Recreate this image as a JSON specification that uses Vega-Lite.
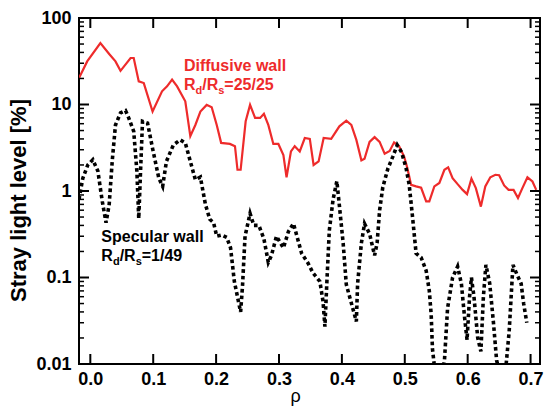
{
  "$schema": "https://vega.github.io/schema/vega-lite/v6.json",
  "width": 461,
  "height": 346,
  "autosize": "none",
  "padding": {"left": 79, "top": 18, "right": 4, "bottom": 48},
  "background": "white",
  "config": {
    "view": {"stroke": "black", "strokeWidth": 2},
    "font": "Liberation Sans",
    "axis": {
      "grid": false,
      "domain": false,
      "ticks": false,
      "labelFont": "Liberation Sans",
      "labelFontWeight": "bold",
      "labelFontSize": 18,
      "labelColor": "black",
      "titleColor": "black",
      "labelFlush": false,
      "labelOverlap": false,
      "labelBound": false
    },
    "text": {"font": "Liberation Sans", "fontWeight": "bold", "align": "left", "baseline": "alphabetic"}
  },
  "datasets": {
    "diffusive": [
      {"rho": -0.018, "v": 20.2}, {"rho": -0.005, "v": 31.5}, {"rho": 0.016, "v": 51.4}, {"rho": 0.030, "v": 38.4},
      {"rho": 0.040, "v": 31.5}, {"rho": 0.048, "v": 24.5}, {"rho": 0.064, "v": 34.5}, {"rho": 0.069, "v": 34.5},
      {"rho": 0.077, "v": 18.5}, {"rho": 0.085, "v": 17.7}, {"rho": 0.099, "v": 8.3}, {"rho": 0.114, "v": 14.2},
      {"rho": 0.122, "v": 16.2}, {"rho": 0.130, "v": 19.4}, {"rho": 0.138, "v": 16.2}, {"rho": 0.151, "v": 10.9},
      {"rho": 0.159, "v": 4.3}, {"rho": 0.167, "v": 5.8}, {"rho": 0.175, "v": 8.3}, {"rho": 0.185, "v": 9.9},
      {"rho": 0.193, "v": 9.3}, {"rho": 0.201, "v": 5.8}, {"rho": 0.208, "v": 3.6}, {"rho": 0.222, "v": 3.5},
      {"rho": 0.230, "v": 3.3}, {"rho": 0.234, "v": 1.76}, {"rho": 0.239, "v": 1.76}, {"rho": 0.247, "v": 6.4},
      {"rho": 0.254, "v": 9.9}, {"rho": 0.262, "v": 7.0}, {"rho": 0.270, "v": 7.0}, {"rho": 0.276, "v": 7.8},
      {"rho": 0.283, "v": 5.8}, {"rho": 0.291, "v": 3.5}, {"rho": 0.299, "v": 3.5}, {"rho": 0.307, "v": 2.6},
      {"rho": 0.312, "v": 1.44}, {"rho": 0.319, "v": 2.87}, {"rho": 0.325, "v": 3.3}, {"rho": 0.333, "v": 2.87},
      {"rho": 0.341, "v": 4.1}, {"rho": 0.349, "v": 4.0}, {"rho": 0.355, "v": 2.0}, {"rho": 0.363, "v": 2.2},
      {"rho": 0.371, "v": 4.1}, {"rho": 0.383, "v": 4.0}, {"rho": 0.396, "v": 5.6}, {"rho": 0.407, "v": 6.5},
      {"rho": 0.415, "v": 5.8}, {"rho": 0.423, "v": 3.9}, {"rho": 0.431, "v": 2.26}, {"rho": 0.436, "v": 2.36},
      {"rho": 0.444, "v": 3.7}, {"rho": 0.452, "v": 4.2}, {"rho": 0.460, "v": 3.7}, {"rho": 0.468, "v": 2.7},
      {"rho": 0.476, "v": 2.9}, {"rho": 0.483, "v": 3.65}, {"rho": 0.491, "v": 3.3}, {"rho": 0.499, "v": 2.5},
      {"rho": 0.504, "v": 1.85}, {"rho": 0.510, "v": 1.18}, {"rho": 0.518, "v": 1.13}, {"rho": 0.526, "v": 1.09},
      {"rho": 0.534, "v": 0.76}, {"rho": 0.539, "v": 0.76}, {"rho": 0.547, "v": 1.13}, {"rho": 0.555, "v": 1.24},
      {"rho": 0.563, "v": 1.76}, {"rho": 0.569, "v": 1.88}, {"rho": 0.576, "v": 1.41}, {"rho": 0.584, "v": 1.2},
      {"rho": 0.592, "v": 1.03}, {"rho": 0.599, "v": 0.92}, {"rho": 0.606, "v": 1.39}, {"rho": 0.613, "v": 1.08},
      {"rho": 0.621, "v": 0.66}, {"rho": 0.628, "v": 1.13}, {"rho": 0.636, "v": 1.44}, {"rho": 0.644, "v": 1.54},
      {"rho": 0.650, "v": 1.52}, {"rho": 0.658, "v": 1.16}, {"rho": 0.665, "v": 1.03}, {"rho": 0.673, "v": 1.03},
      {"rho": 0.680, "v": 0.83}, {"rho": 0.687, "v": 1.08}, {"rho": 0.695, "v": 1.44}, {"rho": 0.703, "v": 1.29},
      {"rho": 0.709, "v": 1.03}
    ],
    "specular": [
      {"rho": -0.018, "v": 0.8}, {"rho": -0.012, "v": 1.4}, {"rho": -0.004, "v": 2.0}, {"rho": 0.004, "v": 2.3},
      {"rho": 0.012, "v": 1.7}, {"rho": 0.019, "v": 0.76}, {"rho": 0.025, "v": 0.43}, {"rho": 0.030, "v": 0.7},
      {"rho": 0.035, "v": 2.3}, {"rho": 0.040, "v": 5.8}, {"rho": 0.048, "v": 8.0}, {"rho": 0.056, "v": 8.5},
      {"rho": 0.061, "v": 7.0}, {"rho": 0.069, "v": 4.9}, {"rho": 0.074, "v": 1.7}, {"rho": 0.077, "v": 0.48},
      {"rho": 0.080, "v": 1.8}, {"rho": 0.083, "v": 6.4}, {"rho": 0.091, "v": 6.1}, {"rho": 0.099, "v": 3.1},
      {"rho": 0.109, "v": 1.4}, {"rho": 0.115, "v": 1.13}, {"rho": 0.121, "v": 2.2}, {"rho": 0.132, "v": 3.4},
      {"rho": 0.143, "v": 3.9}, {"rho": 0.151, "v": 3.6}, {"rho": 0.159, "v": 2.2}, {"rho": 0.167, "v": 1.35},
      {"rho": 0.175, "v": 1.45}, {"rho": 0.183, "v": 0.7}, {"rho": 0.190, "v": 0.47}, {"rho": 0.196, "v": 0.43},
      {"rho": 0.201, "v": 0.3}, {"rho": 0.209, "v": 0.31}, {"rho": 0.217, "v": 0.29}, {"rho": 0.223, "v": 0.22},
      {"rho": 0.229, "v": 0.09}, {"rho": 0.235, "v": 0.055}, {"rho": 0.239, "v": 0.04}, {"rho": 0.242, "v": 0.08},
      {"rho": 0.246, "v": 0.3}, {"rho": 0.254, "v": 0.55}, {"rho": 0.260, "v": 0.4}, {"rho": 0.268, "v": 0.4},
      {"rho": 0.276, "v": 0.28}, {"rho": 0.283, "v": 0.15}, {"rho": 0.288, "v": 0.18}, {"rho": 0.296, "v": 0.3},
      {"rho": 0.307, "v": 0.22}, {"rho": 0.315, "v": 0.34}, {"rho": 0.323, "v": 0.42}, {"rho": 0.328, "v": 0.31},
      {"rho": 0.336, "v": 0.19}, {"rho": 0.346, "v": 0.147}, {"rho": 0.354, "v": 0.113}, {"rho": 0.365, "v": 0.09},
      {"rho": 0.370, "v": 0.053}, {"rho": 0.373, "v": 0.027}, {"rho": 0.376, "v": 0.085}, {"rho": 0.380, "v": 0.35},
      {"rho": 0.386, "v": 0.8}, {"rho": 0.392, "v": 1.3}, {"rho": 0.396, "v": 0.68}, {"rho": 0.402, "v": 0.25},
      {"rho": 0.407, "v": 0.083}, {"rho": 0.423, "v": 0.031}, {"rho": 0.425, "v": 0.085}, {"rho": 0.431, "v": 0.25},
      {"rho": 0.436, "v": 0.42}, {"rho": 0.444, "v": 0.32}, {"rho": 0.452, "v": 0.18}, {"rho": 0.456, "v": 0.25},
      {"rho": 0.460, "v": 0.6}, {"rho": 0.465, "v": 1.1}, {"rho": 0.473, "v": 1.8}, {"rho": 0.481, "v": 2.5},
      {"rho": 0.488, "v": 3.4}, {"rho": 0.495, "v": 2.8}, {"rho": 0.502, "v": 1.85}, {"rho": 0.507, "v": 1.18},
      {"rho": 0.512, "v": 0.53}, {"rho": 0.518, "v": 0.19}, {"rho": 0.526, "v": 0.17}, {"rho": 0.534, "v": 0.12},
      {"rho": 0.539, "v": 0.07}, {"rho": 0.542, "v": 0.037}, {"rho": 0.544, "v": 0.015}, {"rho": 0.549, "v": 0.007},
      {"rho": 0.557, "v": 0.007}, {"rho": 0.563, "v": 0.0107}, {"rho": 0.568, "v": 0.044}, {"rho": 0.576, "v": 0.1},
      {"rho": 0.584, "v": 0.134}, {"rho": 0.590, "v": 0.085}, {"rho": 0.595, "v": 0.035}, {"rho": 0.599, "v": 0.019},
      {"rho": 0.603, "v": 0.06}, {"rho": 0.606, "v": 0.1}, {"rho": 0.610, "v": 0.06}, {"rho": 0.616, "v": 0.02},
      {"rho": 0.621, "v": 0.014}, {"rho": 0.625, "v": 0.06}, {"rho": 0.629, "v": 0.14}, {"rho": 0.635, "v": 0.086},
      {"rho": 0.641, "v": 0.03}, {"rho": 0.646, "v": 0.011}, {"rho": 0.651, "v": 0.008}, {"rho": 0.660, "v": 0.008},
      {"rho": 0.666, "v": 0.024}, {"rho": 0.672, "v": 0.14}, {"rho": 0.678, "v": 0.11}, {"rho": 0.685, "v": 0.085},
      {"rho": 0.689, "v": 0.05}, {"rho": 0.694, "v": 0.03}
    ],
    "xmajor": [{"t": 0}, {"t": 0.1}, {"t": 0.2}, {"t": 0.3}, {"t": 0.4}, {"t": 0.5}, {"t": 0.6}, {"t": 0.7}],
    "ymajor": [{"t": 0.01}, {"t": 0.1}, {"t": 1}, {"t": 10}, {"t": 100}],
    "yminor": [
      {"t": 0.02}, {"t": 0.03}, {"t": 0.04}, {"t": 0.05}, {"t": 0.06}, {"t": 0.07}, {"t": 0.08}, {"t": 0.09},
      {"t": 0.2}, {"t": 0.3}, {"t": 0.4}, {"t": 0.5}, {"t": 0.6}, {"t": 0.7}, {"t": 0.8}, {"t": 0.9},
      {"t": 2}, {"t": 3}, {"t": 4}, {"t": 5}, {"t": 6}, {"t": 7}, {"t": 8}, {"t": 9},
      {"t": 20}, {"t": 30}, {"t": 40}, {"t": 50}, {"t": 60}, {"t": 70}, {"t": 80}, {"t": 90}
    ]
  },
  "layer": [
    {
      "data": {"name": "diffusive"},
      "mark": {"type": "line", "color": "#ee2b2b", "strokeWidth": 2.2, "clip": true},
      "encoding": {
        "x": {"field": "rho", "type": "quantitative",
          "scale": {"domain": [-0.018, 0.715], "nice": false, "zero": false},
          "axis": {"orient": "bottom", "values": [0, 0.1, 0.2, 0.3, 0.4, 0.5, 0.6, 0.7], "format": ".1f", "labelPadding": 6,
            "title": "ρ", "titleFont": "Liberation Sans", "titleFontSize": 18, "titleFontWeight": "normal", "titleX": 216, "titleY": 37, "titleBaseline": "alphabetic", "titleAlign": "center"}},
        "y": {"field": "v", "type": "quantitative",
          "scale": {"type": "log", "domain": [0.01, 100], "nice": false},
          "axis": {"orient": "left", "values": [0.01, 0.1, 1, 10, 100], "format": "~g", "labelPadding": 8,
            "title": "Stray light level [%]", "titleFont": "Liberation Sans", "titleFontSize": 22, "titleFontWeight": "bold",
            "titleAngle": -90, "titleX": -49, "titleY": 182, "titleAlign": "center", "titleBaseline": "bottom"}}
      }
    },
    {
      "data": {"name": "specular"},
      "mark": {"type": "line", "color": "black", "strokeWidth": 3.6, "strokeDash": [3.6, 3], "strokeCap": "butt", "clip": true},
      "encoding": {
        "x": {"field": "rho", "type": "quantitative"},
        "y": {"field": "v", "type": "quantitative"}
      }
    },
    {
      "data": {"name": "xmajor"},
      "mark": {"type": "tick", "orient": "vertical", "size": 20, "thickness": 2, "color": "black", "opacity": 1, "clip": true},
      "encoding": {"x": {"field": "t", "type": "quantitative"}, "y": {"datum": 0.01, "type": "quantitative"}}
    },
    {
      "data": {"name": "xmajor"},
      "mark": {"type": "tick", "orient": "vertical", "size": 20, "thickness": 2, "color": "black", "opacity": 1, "clip": true},
      "encoding": {"x": {"field": "t", "type": "quantitative"}, "y": {"datum": 100, "type": "quantitative"}}
    },
    {
      "data": {"name": "ymajor"},
      "mark": {"type": "tick", "orient": "horizontal", "size": 20, "thickness": 2, "color": "black", "opacity": 1, "clip": true},
      "encoding": {"y": {"field": "t", "type": "quantitative"}, "x": {"datum": -0.018, "type": "quantitative"}}
    },
    {
      "data": {"name": "ymajor"},
      "mark": {"type": "tick", "orient": "horizontal", "size": 20, "thickness": 2, "color": "black", "opacity": 1, "clip": true},
      "encoding": {"y": {"field": "t", "type": "quantitative"}, "x": {"datum": 0.715, "type": "quantitative"}}
    },
    {
      "data": {"name": "yminor"},
      "mark": {"type": "tick", "orient": "horizontal", "size": 10, "thickness": 1.5, "color": "black", "opacity": 1, "clip": true},
      "encoding": {"y": {"field": "t", "type": "quantitative"}, "x": {"datum": -0.018, "type": "quantitative"}}
    },
    {
      "data": {"name": "yminor"},
      "mark": {"type": "tick", "orient": "horizontal", "size": 10, "thickness": 1.5, "color": "black", "opacity": 1, "clip": true},
      "encoding": {"y": {"field": "t", "type": "quantitative"}, "x": {"datum": 0.715, "type": "quantitative"}}
    },
    {
      "data": {"values": [{}]},
      "mark": {"type": "text", "text": "Diffusive wall", "fontSize": 16, "color": "#ee2b2b"},
      "encoding": {"x": {"datum": 0.1488, "type": "quantitative"}, "y": {"datum": 24.1, "type": "quantitative"}}
    },
    {
      "data": {"values": [{}]},
      "mark": {"type": "text", "text": "R", "fontSize": 16, "color": "#ee2b2b"},
      "encoding": {"x": {"datum": 0.1488, "type": "quantitative"}, "y": {"datum": 14.6, "type": "quantitative"}}
    },
    {
      "data": {"values": [{}]},
      "mark": {"type": "text", "text": "d", "fontSize": 11, "color": "#ee2b2b", "dx": 11.6, "dy": 4},
      "encoding": {"x": {"datum": 0.1488, "type": "quantitative"}, "y": {"datum": 14.6, "type": "quantitative"}}
    },
    {
      "data": {"values": [{}]},
      "mark": {"type": "text", "text": "/R", "fontSize": 16, "color": "#ee2b2b", "dx": 18.3},
      "encoding": {"x": {"datum": 0.1488, "type": "quantitative"}, "y": {"datum": 14.6, "type": "quantitative"}}
    },
    {
      "data": {"values": [{}]},
      "mark": {"type": "text", "text": "s", "fontSize": 11, "color": "#ee2b2b", "dx": 34.3, "dy": 4},
      "encoding": {"x": {"datum": 0.1488, "type": "quantitative"}, "y": {"datum": 14.6, "type": "quantitative"}}
    },
    {
      "data": {"values": [{}]},
      "mark": {"type": "text", "text": "=25/25", "fontSize": 16, "color": "#ee2b2b", "dx": 40.4},
      "encoding": {"x": {"datum": 0.1488, "type": "quantitative"}, "y": {"datum": 14.6, "type": "quantitative"}}
    },
    {
      "data": {"values": [{}]},
      "mark": {"type": "text", "text": "Specular wall", "fontSize": 16, "color": "black"},
      "encoding": {"x": {"datum": 0.0175, "type": "quantitative"}, "y": {"datum": 0.2547, "type": "quantitative"}}
    },
    {
      "data": {"values": [{}]},
      "mark": {"type": "text", "text": "R", "fontSize": 16, "color": "black"},
      "encoding": {"x": {"datum": 0.0175, "type": "quantitative"}, "y": {"datum": 0.1535, "type": "quantitative"}}
    },
    {
      "data": {"values": [{}]},
      "mark": {"type": "text", "text": "d", "fontSize": 11, "color": "black", "dx": 11.6, "dy": 4},
      "encoding": {"x": {"datum": 0.0175, "type": "quantitative"}, "y": {"datum": 0.1535, "type": "quantitative"}}
    },
    {
      "data": {"values": [{}]},
      "mark": {"type": "text", "text": "/R", "fontSize": 16, "color": "black", "dx": 18.3},
      "encoding": {"x": {"datum": 0.0175, "type": "quantitative"}, "y": {"datum": 0.1535, "type": "quantitative"}}
    },
    {
      "data": {"values": [{}]},
      "mark": {"type": "text", "text": "s", "fontSize": 11, "color": "black", "dx": 34.3, "dy": 4},
      "encoding": {"x": {"datum": 0.0175, "type": "quantitative"}, "y": {"datum": 0.1535, "type": "quantitative"}}
    },
    {
      "data": {"values": [{}]},
      "mark": {"type": "text", "text": "=1/49", "fontSize": 16, "color": "black", "dx": 40.4},
      "encoding": {"x": {"datum": 0.0175, "type": "quantitative"}, "y": {"datum": 0.1535, "type": "quantitative"}}
    }
  ]
}
